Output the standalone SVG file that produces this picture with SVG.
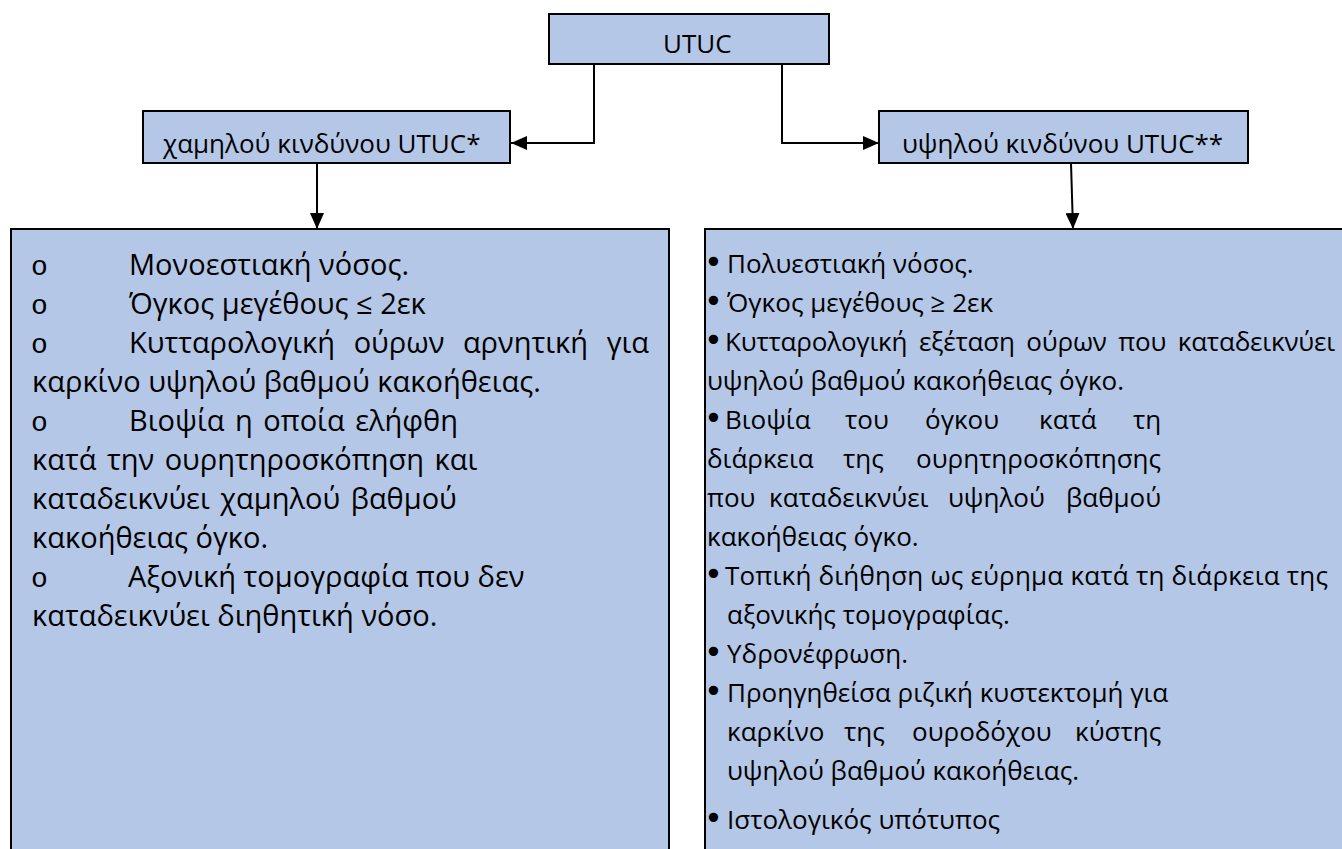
<svg xmlns="http://www.w3.org/2000/svg" width="1342" height="849" viewBox="0 0 1342 849">
  <style>
    .box { fill: #B4C7E7; stroke: #000; stroke-width: 2; }
    .t { font-family: "Open Sans", "Noto Sans", "DejaVu Sans", sans-serif; fill: #000; }
    .hd { font-size: 26px; }
    .lt { font-size: 29px; }
    .rt { font-size: 26px; }
    .ob { font-family: "Liberation Mono", "DejaVu Sans Mono", monospace; font-size: 28px; }
    .bl { font-family: "DejaVu Sans", "Liberation Sans", sans-serif; font-size: 32px; fill: #000; }
    .edge { fill: none; stroke: #000; stroke-width: 2; }
  </style>
  <defs>
    <marker id="arrow" viewBox="0 0 16 14" refX="16" refY="7" markerWidth="16" markerHeight="14" markerUnits="userSpaceOnUse" orient="auto">
      <path d="M0,0 L16,7 L0,14 z" fill="#000"/>
    </marker>
  </defs>

  <rect width="1342" height="849" fill="#fff"/>

  <g id="connectors">
    <polyline class="edge" points="594,64 594,143 511,143" marker-end="url(#arrow)"/>
    <polyline class="edge" points="782,64 782,143 879,143" marker-end="url(#arrow)"/>
    <line class="edge" x1="317" y1="163" x2="317" y2="229" marker-end="url(#arrow)"/>
    <line class="edge" x1="1071" y1="163" x2="1073" y2="229" marker-end="url(#arrow)"/>
  </g>

  <g id="node-utuc">
    <rect class="box" x="549" y="14" width="280" height="50"/>
    <text class="t hd" x="663" y="53">UTUC</text>
  </g>

  <g id="node-low">
    <rect class="box" x="143" y="111" width="367" height="52"/>
    <text class="t hd" x="163" y="153">χαμηλού κινδύνου UTUC*</text>
  </g>

  <g id="node-high">
    <rect class="box" x="879" y="111" width="369" height="52"/>
    <text class="t hd" x="902" y="153">υψηλού κινδύνου UTUC**</text>
  </g>

  <g id="node-low-criteria">
    <rect class="box" x="11" y="229" width="658" height="640"/>
    <text class="t lt" y="275"><tspan class="ob" x="31">o</tspan><tspan x="129">Μονοεστιακή νόσος.</tspan></text>
    <text class="t lt" y="314"><tspan class="ob" x="31">o</tspan><tspan x="129">Όγκος μεγέθους ≤ 2εκ</tspan></text>
    <text class="t lt" y="353"><tspan class="ob" x="31">o</tspan><tspan x="129" word-spacing="11">Κυτταρολογική ούρων αρνητική για</tspan></text>
    <text class="t lt" x="32" y="392">καρκίνο υψηλού βαθμού κακοήθειας.</text>
    <text class="t lt" y="431"><tspan class="ob" x="31">o</tspan><tspan x="129" word-spacing="3">Βιοψία η οποία ελήφθη</tspan></text>
    <text class="t lt" x="32" y="470" word-spacing="3">κατά την ουρητηροσκόπηση και</text>
    <text class="t lt" x="32" y="509" word-spacing="3">καταδεικνύει χαμηλού βαθμού</text>
    <text class="t lt" x="32" y="548">κακοήθειας όγκο.</text>
    <text class="t lt" y="587"><tspan class="ob" x="31">o</tspan><tspan x="128">Αξονική τομογραφία που δεν</tspan></text>
    <text class="t lt" x="32" y="626">καταδεικνύει διηθητική νόσο.</text>
  </g>

  <g id="node-high-criteria">
    <rect class="box" x="705" y="229" width="660" height="640"/>
    <text class="bl" x="704" y="273">•</text>
    <text class="t rt" x="727" y="273">Πολυεστιακή νόσος.</text>
    <text class="bl" x="704" y="312">•</text>
    <text class="t rt" x="727" y="312">Όγκος μεγέθους ≥ 2εκ</text>
    <text class="bl" x="704" y="351">•</text>
    <text class="t rt" x="725" y="351" word-spacing="5" textLength="610" lengthAdjust="spacing">Κυτταρολογική εξέταση ούρων που καταδεικνύει</text>
    <text class="t rt" x="707" y="390">υψηλού βαθμού κακοήθειας όγκο.</text>
    <text class="bl" x="704" y="429">•</text>
    <text class="t rt" y="429"><tspan x="725">Βιοψία</tspan><tspan x="845">του</tspan><tspan x="925">όγκου</tspan><tspan x="1039">κατά</tspan><tspan x="1133">τη</tspan></text>
    <text class="t rt" y="468"><tspan x="707">διάρκεια</tspan><tspan x="843">της</tspan><tspan x="916">ουρητηροσκόπησης</tspan></text>
    <text class="t rt" y="507"><tspan x="707">που</tspan><tspan x="769">καταδεικνύει</tspan><tspan x="948">υψηλού</tspan><tspan x="1066">βαθμού</tspan></text>
    <text class="t rt" x="707" y="546">κακοήθειας όγκο.</text>
    <text class="bl" x="704" y="585">•</text>
    <text class="t rt" x="725" y="585" textLength="603" lengthAdjust="spacing">Τοπική διήθηση ως εύρημα κατά τη διάρκεια της</text>
    <text class="t rt" x="727" y="624">αξονικής τομογραφίας.</text>
    <text class="bl" x="704" y="663">•</text>
    <text class="t rt" x="727" y="663">Υδρονέφρωση.</text>
    <text class="bl" x="704" y="702">•</text>
    <text class="t rt" x="727" y="702">Προηγηθείσα ριζική κυστεκτομή για</text>
    <text class="t rt" y="741"><tspan x="727">καρκίνο</tspan><tspan x="844">της</tspan><tspan x="912">ουροδόχου</tspan><tspan x="1075">κύστης</tspan></text>
    <text class="t rt" x="727" y="780">υψηλού βαθμού κακοήθειας.</text>
    <text class="bl" x="704" y="829">•</text>
    <text class="t rt" x="727" y="829">Ιστολογικός υπότυπος</text>
  </g>
</svg>
